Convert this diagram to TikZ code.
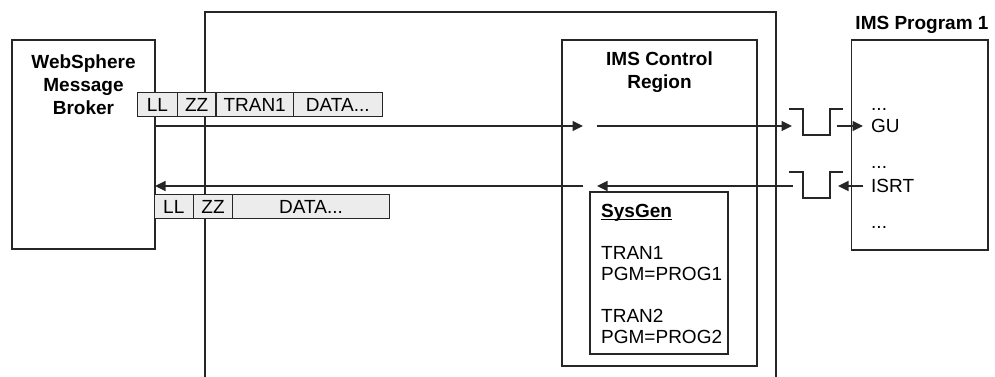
\documentclass[tikz,border=0pt]{standalone}
\usepackage{fontspec}
\setmainfont{Liberation Sans}
\usetikzlibrary{arrows.meta,positioning}
\newcommand{\headfont}{\fontsize{19}{23}\selectfont\bfseries}
\newcommand{\bodyfont}{\fontsize{19}{21}\selectfont}
\tikzset{
	line/.style={line width=1.3pt, draw=black!85},
	box/.style={line, rectangle, inner sep=0pt, outer sep=0pt},
	flow/.style={line, -{Triangle[length=10.5pt,width=10pt]}},
	cell/.style={line, fill=gray!15, minimum height=24.5pt, inner sep=0pt, outer sep=0pt, font=\bodyfont},
	heading/.style={align=center, font=\headfont, inner sep=0pt},
	pgmline/.style={anchor=base west, inner xsep=8pt, inner ysep=0pt, font=\bodyfont},
}

\begin{document}
\begin{tikzpicture}[x=1pt,y=-1pt]
		%%%%% START %%%%%
		\useasboundingbox (0,0) rectangle (995,377);
		
		\coordinate (fbl) at (205,377);
		\coordinate (ftr) at (776,12);
		\coordinate (fbr) at (776,377);
		\draw[line] (fbl) |- (ftr) -- (fbr);
		
		\node[box, minimum width=143pt, minimum height=209pt] (wmb) at (83.5,144.5) {};
		\node[heading] (wmbtitle) at (83.5,85) {WebSphere\\Message\\Broker};
		
		\node[box, minimum width=195pt, minimum height=326pt] (ctl) at (659.5,203) {};
		\node[heading] (ctltitle) at (659.5,72) {IMS Control\\Region};
		
		\node[box, minimum width=138pt, minimum height=162pt] (sysgen) at (659,273) {};
		\node[anchor=north west, align=left, inner sep=0pt, font=\bodyfont] (sysgentext) at (601,204.5)
			{\underline{\raisebox{0pt}[\height][0pt]{\textbf{SysGen}}}\\[21pt]TRAN1\\PGM=PROG1\\[21pt]TRAN2\\PGM=PROG2};
		
		\node[box, minimum width=136.3pt, minimum height=210pt] (prog) at (919.9,145) {};
		\node[heading] (progtitle) at (922,25) {IMS Program 1};
		\node[pgmline] (dots1) at (863,111) {...};
		\node[pgmline] (gu) at (863,132.9) {GU};
		\node[pgmline] (dots2) at (863,168) {...};
		\node[pgmline] (isrt) at (863,192.9) {ISRT};
		\node[pgmline] (dots3) at (863,228) {...};
		
		% request
		\coordinate (ctlin) at (583,126);
		\coordinate (ctlout) at (597,126);
		\coordinate (gate1in) at (792,126);
		\coordinate (gate1out) at (837,126);
		\draw[flow] (wmb.east |- ctlin) -- (ctlin);
		\draw[flow] (ctlout) -- (gate1in);
		\coordinate (pulse1) at (789,109);
		\draw[line] (pulse1) -- ++(14,0) -- ++(0,26) -- ++(27,0) -- ++(0,-26) -- ++(13,0);
		\draw[flow] (gate1out) -- (gu.west |- gate1out);
		
		% reply
		\coordinate (gate2in) at (793,186);
		\coordinate (gate2out) at (838,186);
		\coordinate (pulse2) at (789,172);
		\draw[flow] (isrt.west |- gate2out) -- (gate2out);
		\draw[line] (pulse2) -- ++(14,0) -- ++(0,26) -- ++(27,0) -- ++(0,-26) -- ++(13,0);
		\draw[flow] (gate2in) -- (ctlout |- gate2in);
		\draw[flow] (ctlin |- gate2in) -- (wmb.east |- gate2in);
		
		% messages
		\node[cell, minimum width=39.6pt, anchor=north west] (ll1) at (137.7,92.3) {LL};
		\node[cell, minimum width=38.7pt, right=0pt of ll1] (zz1) {ZZ};
		\node[cell, minimum width=77.3pt, right=0pt of zz1] (tran1) {TRAN1};
		\node[cell, minimum width=89pt, right=0pt of tran1] (data1) {DATA...};
		
		\node[cell, minimum width=39pt, anchor=north west] (ll2) at (154.3,194.3) {LL};
		\node[cell, minimum width=39.4pt, right=0pt of ll2] (zz2) {ZZ};
		\node[cell, minimum width=156.6pt, right=0pt of zz2] (data2) {DATA...};
		
		%%%%% END %%%%%
\end{tikzpicture}
\end{document}
